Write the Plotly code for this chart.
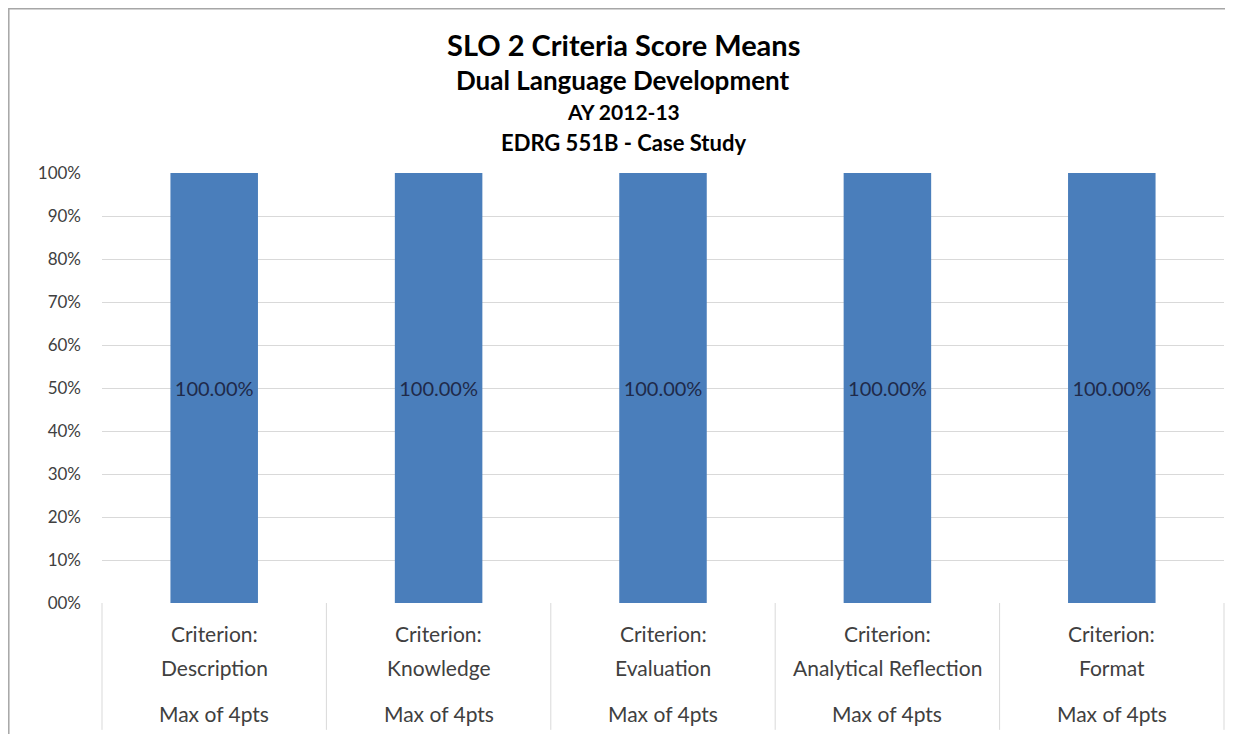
import plotly.graph_objects as go

criteria = ["Description", "Knowledge", "Evaluation", "Analytical Reflection", "Format"]
values = [1.0, 1.0, 1.0, 1.0, 1.0]
value_labels = ["100.00%"] * 5
max_labels = ["Max of 4pts"] * 5
y_tickvals = [0, 0.1, 0.2, 0.3, 0.4, 0.5, 0.6, 0.7, 0.8, 0.9, 1.0]
y_ticktext = ["00%", "10%", "20%", "30%", "40%", "50%", "60%", "70%", "80%", "90%", "100%"]
titles = ["SLO 2 Criteria Score Means", "Dual Language Development", "AY 2012-13", "EDRG 551B - Case Study"]

FONT = "Lato"
xs = list(range(len(criteria)))

W, H = 1225, 726
ML, MR, MT, MB = 94, 9, 165, 131
PW, PH = W - ML - MR, H - MT - MB

fig = go.Figure()
fig.add_trace(go.Bar(
    x=xs, y=values, width=0.39,
    marker=dict(color="#4A7EBB", line=dict(width=0)),
    text=value_labels, textposition="inside", insidetextanchor="middle",
    constraintext="none",
    textfont=dict(family=FONT, size=20, color="#1F2A4A"),
))

annotations = []
title_x = (615 - ML) / PW
title_specs = [(1.298, 29), (1.216, 26), (1.142, 21), (1.070, 22)]
for t, (yy, sz) in zip(titles, title_specs):
    annotations.append(dict(text=f"<b>{t}</b>", x=title_x, y=yy, xref="paper", yref="paper",
                            showarrow=False, xanchor="center", yanchor="middle",
                            font=dict(family=FONT, size=sz, color="#000000")))
cat_font = dict(family=FONT, size=21, color="#404040")
for i, c in enumerate(criteria):
    annotations.append(dict(text="Criterion:", x=i, y=-0.072, xref="x", yref="paper",
                            showarrow=False, yanchor="middle", font=cat_font))
    annotations.append(dict(text=c, x=i, y=-0.149, xref="x", yref="paper",
                            showarrow=False, yanchor="middle", font=cat_font))
    annotations.append(dict(text=max_labels[i], x=i, y=-0.258, xref="x", yref="paper",
                            showarrow=False, yanchor="middle", font=cat_font))

shapes = []
n = len(criteria)
for k in range(n + 1):
    xp = k / n
    shapes.append(dict(type="line", xref="paper", yref="paper", x0=xp, x1=xp, y0=0, y1=-0.295,
                       line=dict(color="#D9D9D9", width=1)))
# outer chart frame (left and top edges visible)
shapes.append(dict(type="rect", xref="paper", yref="paper",
                   x0=(-ML + 0.8) / PW, x1=(PW + MR + 20) / PW,
                   y0=(PH + MT - 0.8) / PH, y1=-(MB + 20) / PH,
                   line=dict(color="#A6A6A6", width=1.5), fillcolor="rgba(0,0,0,0)", layer="below"))

fig.update_layout(
    width=W, height=H,
    margin=dict(l=ML, r=MR, t=MT, b=MB),
    paper_bgcolor="white", plot_bgcolor="white",
    showlegend=False,
    annotations=annotations, shapes=shapes,
    xaxis=dict(range=[-0.5, n - 0.5], showticklabels=False, showgrid=False, zeroline=False,
               showline=False, ticks="", fixedrange=True),
    yaxis=dict(range=[0, 1.0], tickvals=y_tickvals, ticktext=y_ticktext,
               showgrid=True, gridcolor="#D9D9D9", gridwidth=1, zeroline=False,
               showline=False, ticks="", ticklen=0, ticklabelstandoff=20,
               tickfont=dict(family=FONT, size=17, color="#404040")),
    font=dict(family=FONT),
)

fig.write_html("out.html")
